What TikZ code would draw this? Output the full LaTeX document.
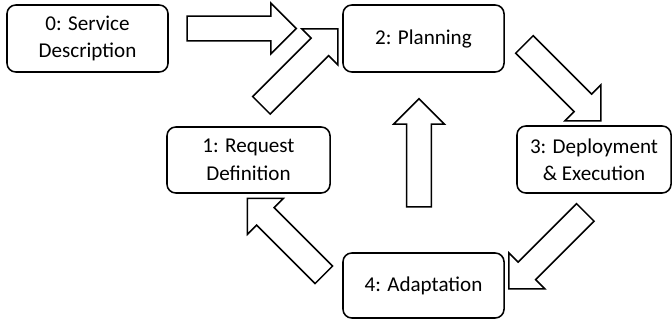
\documentclass[tikz,border=0pt]{standalone}
\usepackage{fontspec}
\setmainfont{Carlito}
\usetikzlibrary{shapes.arrows}
\tikzset{
  stage/.style={draw, line width=1.1pt, rounded corners=0.22cm, align=center,
    inner sep=0pt, font=\fontsize{15pt}{19.5pt}\selectfont},
  flow/.style={single arrow, draw, line width=1.1pt, inner xsep=0pt, inner ysep=0.29cm,
    single arrow head extend=0.325cm, single arrow tip angle=90,
    minimum width=1.225cm, minimum height=2.7cm, anchor=center}
}

\begin{document}
\begin{tikzpicture}[x=0.025cm, y=-0.025cm]
\useasboundingbox (0,0) rectangle (672,320);

% stages
\node[stage, minimum width=4.025cm, minimum height=1.675cm] (0) at (87.5,38.5) {0: Service\\Description};
\node[stage, minimum width=4.075cm, minimum height=1.65cm] (1) at (248.5,160) {1: Request\\Definition};
\node[stage, minimum width=4.025cm, minimum height=1.675cm] (2) at (423.5,38.5) {2: Planning};
\node[stage, minimum width=3.85cm, minimum height=1.675cm] (3) at (594,159.5) {3: Deployment\\\& Execution};
\node[stage, minimum width=4.025cm, minimum height=1.625cm] (4) at (423.5,285.5) {4: Adaptation};

% block arrows
\node[flow, minimum height=2.725cm] (02) at (235.5,28.5) {};
\node[flow, rotate=45] (12) at (295.25,71.5) {};
\node[flow, rotate=-45] (23) at (558.25,78.25) {};
\node[flow, rotate=-135] (34) at (551.5,246.25) {};
\node[flow, rotate=135] (41) at (290,241) {};
\node[flow, rotate=90] (42) at (419,159) {};

\end{tikzpicture}
\end{document}
